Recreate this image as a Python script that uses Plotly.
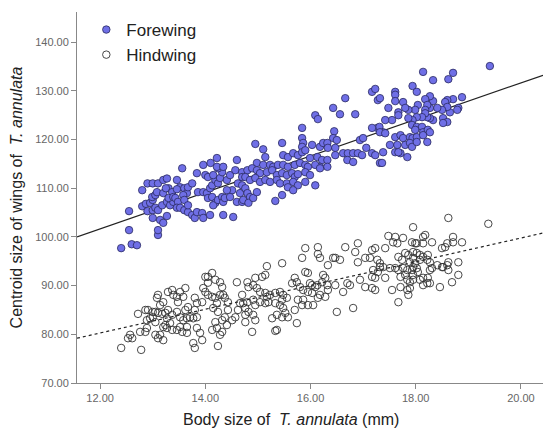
import plotly.graph_objects as go

# ---------------- data ----------------
fore_x = [12.4,12.6,12.7,12.55,13.1,13.1,12.55,12.8,12.9,13.0,13.1,13.2,13.27,
12.8,12.87,12.95,13.0,12.99,13.05,13.08,12.9,13.0,13.05,13.1,13.0,13.14,13.2,13.27,
13.18,13.27,13.33,13.39,13.2,13.3,13.25,13.37,13.3,13.39,13.46,13.52,13.46,13.56,
13.43,13.48,13.46,13.52,13.6,13.6,13.65,13.58,13.67,13.75,13.67,13.75,13.8,13.84,13.94,13.96,
13.6,13.67,13.84,13.96,14.1,14.22,
13.86,13.96,14.03,14.09,14.13,14.19,14.24,14.28,14.32,14.24,14.22,14.34,14.0,14.05,14.15,
14.05,14.13,14.19,14.15,14.24,14.32,14.34,14.09,14.34,14.53,
14.41,14.47,14.57,14.6,14.7,14.7,14.62,14.66,14.6,14.7,14.51,14.41,14.37,14.47,
16.66,17.17,17.23,17.28,16.43,16.56,16.85,16.09,16.14,15.84,16.45,16.43,16.5,15.46,14.95,15.1,
15.84,15.86,15.84,16.03,16.18,16.24,16.32,16.33,16.47,
16.94,17.0,17.06,17.27,17.31,17.38,17.17,
15.48,15.57,15.67,15.76,15.84,15.9,15.99,16.13,16.22,16.32,16.18,16.32,
16.47,16.62,16.71,16.81,16.9,16.98,17.17,17.23,16.7,16.81,17.32,
14.98,15.14,15.1,15.23,15.29,15.38,15.48,15.57,15.7,15.8,15.9,15.95,16.09,16.18,
14.8,14.89,14.98,15.04,15.17,15.27,15.36,15.46,15.55,15.65,15.7,15.76,15.9,15.99,15.9,
14.76,14.85,14.95,15.04,15.14,15.23,15.36,15.42,15.55,15.67,15.76,15.57,15.67,15.46,15.33,16.09,
14.7,14.76,14.8,14.85,14.72,14.82,14.91,14.98,
19.41,18.14,18.71,18.62,18.33,17.94,18.02,17.61,17.61,
18.88,18.71,18.6,18.56,18.33,18.27,18.18,17.76,17.61,17.32,
18.81,18.79,18.65,18.6,18.5,18.41,18.27,18.22,18.18,18.04,17.99,17.86,17.8,17.67,17.48,
18.52,18.6,18.52,18.33,18.27,18.22,18.18,18.12,18.02,17.94,17.86,17.93,18.02,17.99,18.12,18.14,18.23,17.67,17.55,17.42,17.32,17.42,
17.61,17.71,17.76,17.89,17.94,18.02,18.14,18.27,17.65,17.8,17.89,17.93,18.02,18.22,17.51,17.38,17.61,17.71,17.67,17.84,17.36]
fore_y = [97.7,98.5,98.3,101.4,100.4,101.4,105.3,109.6,111.0,111.0,111.0,111.7,112.0,
106.3,106.8,107.0,107.6,108.2,108.6,109.2,105.3,105.5,106.0,105.5,103.9,103.5,102.9,104.3,
106.5,107.2,106.5,107.2,109.0,110.0,110.0,109.2,108.0,108.2,111.7,110.2,109.8,114.1,
108.0,107.2,106.0,106.0,105.5,110.0,109.0,108.6,110.2,111.0,105.1,104.5,103.9,105.1,104.9,103.9,
107.6,106.5,113.1,114.8,115.2,116.2,
109.2,109.2,109.0,110.0,110.6,111.7,111.0,112.1,113.3,114.1,114.4,114.4,112.7,112.3,112.7,
108.0,108.2,107.0,106.5,107.6,108.2,107.2,104.5,104.5,104.1,
111.7,112.7,113.7,115.8,113.3,112.3,111.0,109.0,107.2,107.2,109.6,109.6,108.0,108.2,
128.5,129.8,130.4,128.1,126.5,125.2,125.2,125.0,124.2,122.4,121.7,120.3,119.9,119.3,119.1,118.0,
120.3,119.3,118.5,118.9,118.5,119.3,119.3,118.3,118.3,
119.9,120.3,118.3,122.4,122.6,121.5,122.4,
116.8,116.4,117.2,116.8,117.4,117.8,116.2,116.4,115.8,115.8,114.4,114.4,
116.8,117.2,117.2,117.2,117.2,116.8,117.2,116.8,115.8,115.4,115.2,
115.2,116.4,114.8,114.8,114.4,114.8,114.8,114.4,114.8,115.2,114.8,114.4,114.8,114.1,
113.7,114.1,113.7,113.1,113.3,113.7,112.7,113.1,112.7,113.1,112.3,112.9,113.3,112.7,111.3,
112.3,111.7,112.1,111.3,111.7,111.3,111.7,111.0,111.0,111.3,110.6,110.2,109.6,108.6,107.4,110.6,
110.6,110.0,109.0,108.2,107.6,107.0,108.0,109.2,
135.1,133.9,133.7,132.4,132.2,131.0,129.8,129.8,129.2,
128.7,128.3,128.1,127.7,127.9,128.9,128.3,127.7,127.9,128.5,
126.5,126.1,125.6,126.7,126.1,126.5,126.5,127.1,126.1,127.1,126.1,126.1,126.5,125.6,126.5,
124.4,123.6,123.4,124.0,124.4,124.6,125.4,124.6,124.6,124.0,124.4,123.0,122.6,122.0,122.6,121.5,122.0,125.0,124.0,124.0,121.5,121.3,
120.5,120.9,120.3,120.5,120.3,120.5,120.9,121.5,118.9,118.9,119.3,118.5,119.5,119.5,118.9,117.4,117.4,117.2,117.4,116.4,115.2]

hind_x = [12.4,12.78,12.57,12.61,12.53,12.72,12.76,12.86,12.89,
12.86,12.91,13.0,13.05,12.95,13.0,13.05,12.89,13.1,13.18,13.14,13.08,13.1,13.2,13.24,13.27,
13.05,13.1,13.2,13.14,13.2,13.27,13.24,13.33,
13.29,13.37,13.39,13.46,13.48,13.58,13.62,13.52,
13.29,13.37,13.46,13.52,13.58,13.65,13.71,13.77,13.84,13.62,13.67,13.8,
13.37,13.46,13.56,13.65,13.52,13.65,13.84,13.9,13.94,13.77,13.8,
13.8,13.84,13.94,14.0,13.96,14.05,14.13,14.05,14.0,14.19,14.28,14.32,14.05,14.13,14.19,14.28,14.34,
14.22,14.15,14.24,14.37,14.43,14.43,14.37,14.32,14.19,14.13,14.22,14.32,14.28,14.41,14.51,14.57,14.62,
14.6,14.7,14.66,14.24,
14.89,15.36,15.33,15.74,16.5,16.81,
15.9,16.14,16.14,16.18,15.84,15.46,15.17,16.43,16.47,16.56,16.33,16.66,16.9,16.85,17.04,16.9,17.17,17.23,17.13,17.27,
17.32,17.19,17.28,17.17,17.23,16.94,17.04,17.17,17.23,
15.9,15.95,15.7,15.74,15.65,16.24,16.28,16.22,
16.47,16.7,16.75,16.62,16.32,16.33,16.28,16.18,16.14,16.09,15.99,16.03,16.13,16.03,15.95,15.86,15.8,15.76,15.86,15.84,15.95,16.05,15.7,15.57,15.52,15.46,15.36,15.27,
15.14,15.08,14.95,14.91,14.82,14.8,14.98,15.04,15.14,15.17,15.23,15.33,15.42,15.48,15.46,15.55,15.42,15.48,15.33,15.2,15.14,15.04,14.91,14.95,14.8,14.72,14.76,14.82,14.91,14.76,14.95,14.76,
18.62,19.38,17.95,
17.48,17.61,17.57,17.65,17.76,17.93,17.99,18.02,18.14,18.18,18.14,18.31,18.6,18.71,18.71,18.88,18.56,18.5,17.42,
17.67,17.8,17.74,17.86,17.95,18.02,17.95,18.08,18.14,18.23,18.08,18.22,18.27,17.99,17.95,17.89,18.81,18.62,18.6,18.62,18.5,18.41,18.52,
17.32,17.38,17.51,17.61,17.67,17.76,17.84,17.93,18.02,18.04,17.95,17.8,17.71,17.84,17.89,17.95,18.08,18.14,18.23,18.22,18.14,18.27,18.31,17.42,18.81,18.69,18.46,18.27,
17.55,17.71,17.84,17.89,17.86,17.67]
hind_y = [77.2,76.8,79.9,79.2,79.2,84.2,80.5,80.5,81.3,
85.0,85.0,84.6,84.6,83.3,83.5,82.5,82.9,84.4,84.2,86.0,87.5,88.1,86.6,84.4,83.3,
79.9,79.2,78.8,79.9,81.5,81.3,81.9,82.3,
88.7,89.1,88.1,87.7,86.6,87.7,89.5,88.7,
85.0,84.0,84.6,83.5,82.9,83.3,83.5,83.3,83.5,85.0,85.6,85.0,
80.9,80.9,80.5,80.3,81.5,81.5,81.3,80.3,78.8,78.2,77.2,
87.5,86.4,86.6,88.7,89.5,90.6,92.6,91.8,91.8,91.2,90.7,89.7,88.1,87.7,87.5,88.1,88.1,
86.4,85.4,84.6,87.5,86.6,85.0,83.5,82.9,82.5,80.9,81.3,80.5,79.9,81.9,82.9,83.5,85.0,
90.7,88.1,86.4,77.6,
80.5,80.9,80.7,82.3,84.6,85.4,
97.7,97.9,96.5,95.7,95.7,94.6,94.0,95.7,95.7,95.3,94.2,97.9,98.7,96.9,95.7,94.8,97.3,97.7,95.7,95.3,
93.8,93.2,92.8,91.8,91.6,91.2,89.7,89.5,89.1,
92.8,92.6,91.6,90.7,90.5,92.2,91.6,90.7,
90.1,90.5,90.1,88.7,90.1,89.1,87.7,88.1,87.5,89.7,90.5,90.1,90.1,88.5,88.7,89.1,89.7,87.1,87.1,86.0,86.0,86.0,85.0,83.5,84.4,83.5,84.0,83.3,
92.2,91.8,91.6,90.1,89.7,90.7,89.5,88.7,88.5,87.7,88.1,88.5,88.7,88.1,87.1,87.5,86.0,85.4,86.4,86.6,86.4,86.6,87.1,86.0,86.6,86.4,85.4,84.6,84.0,84.0,82.9,82.5,
103.9,102.7,102.0,
100.2,100.0,98.9,98.7,99.8,98.9,98.7,98.7,100.0,100.4,98.7,98.9,98.7,100.0,98.9,98.9,97.9,97.7,97.7,
95.9,96.7,95.3,96.3,96.9,96.7,95.7,96.3,95.9,96.3,95.3,95.3,94.8,94.6,93.8,94.8,94.8,94.8,94.2,93.2,93.8,94.2,93.8,
94.6,93.8,93.6,93.6,93.2,93.6,93.2,93.2,93.6,92.8,92.2,92.2,91.8,91.2,90.7,91.2,91.2,91.6,91.6,90.5,90.1,93.2,93.6,91.6,92.2,90.7,89.7,90.5,
89.1,89.7,89.1,89.5,88.1,86.6]

# fit lines, read at the axis edges
fit_x = [11.56, 20.42]
fore_fit_y = [100.0, 133.2]
hind_fit_y = [79.2, 100.8]

x_ticks = [12, 14, 16, 18, 20]
y_ticks = [70, 80, 90, 100, 110, 120, 130, 140]

FONT = "Liberation Sans, Arial, sans-serif"

fig = go.Figure()
fig.add_trace(go.Scatter(x=fit_x, y=fore_fit_y, mode="lines",
                         line=dict(color="#222222", width=1.2), showlegend=False, hoverinfo="skip"))
fig.add_trace(go.Scatter(x=fit_x, y=hind_fit_y, mode="lines",
                         line=dict(color="#222222", width=1.2, dash="dot"), showlegend=False, hoverinfo="skip"))
fig.add_trace(go.Scatter(x=fore_x, y=fore_y, mode="markers", name="Forewing",
                         marker=dict(size=7.5, color="#6f6fe6", line=dict(color="#2a2a60", width=0.8))))
fig.add_trace(go.Scatter(x=hind_x, y=hind_y, mode="markers", name="Hindwing",
                         marker=dict(size=7.5, color="rgba(255,255,255,0)", line=dict(color="#333333", width=0.9))))

fig.update_layout(
    width=543, height=429,
    margin=dict(l=77, r=0, t=12, b=46),
    paper_bgcolor="white", plot_bgcolor="white",
    font=dict(family=FONT, color="#222222"),
    legend=dict(x=0.02, y=1.0, xanchor="left", yanchor="top", bgcolor="rgba(0,0,0,0)",
                font=dict(size=17, color="#222222"), itemsizing="trace"),
    xaxis=dict(range=[11.56, 20.42], tickvals=x_ticks, tickformat=".2f",
               showgrid=False, zeroline=False, showline=True, linecolor="#888888", linewidth=1,
               ticks="outside", ticklen=5, tickcolor="#888888",
               tickfont=dict(size=11, color="#666666"), automargin=False),
    yaxis=dict(range=[70, 146.2], tickvals=y_ticks, tickformat=".2f",
               showgrid=False, zeroline=False, showline=True, linecolor="#888888", linewidth=1,
               ticks="outside", ticklen=5, tickcolor="#888888",
               tickfont=dict(size=11, color="#666666"), automargin=False,
               title=dict(text="Centroid size of wings of  <i>T. annulata</i>", font=dict(size=16, color="#222222"), standoff=8)),
    annotations=[dict(text="Body size of  <i>T. annulata</i> (mm)", xref="paper", yref="paper",
                      x=0.459, y=-0.0997, xanchor="center", yanchor="middle", showarrow=False,
                      font=dict(size=16, color="#222222"))],
)

fig.write_html("out.html", config={"displayModeBar": False},
               post_script="document.body.style.margin='0';")
